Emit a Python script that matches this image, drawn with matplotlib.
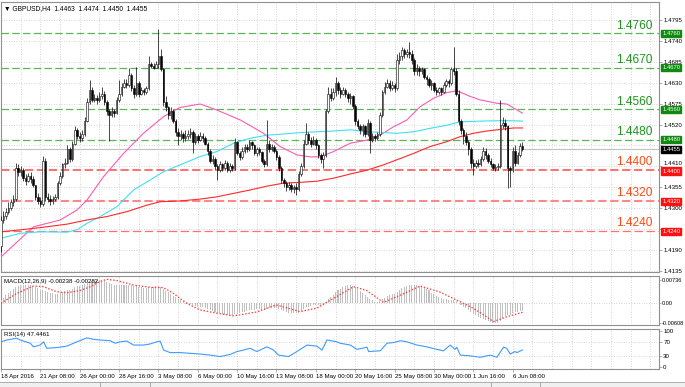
import matplotlib
matplotlib.use("Agg")
import matplotlib.pyplot as plt
from matplotlib.patches import Rectangle
import matplotlib.transforms as mtransforms
import numpy as np

plt.rcParams['font.family'] = ['Liberation Sans', 'DejaVu Sans']

# ---------------- data (GBPUSD H4, bars indexed from left edge) ----------------
opens = [1.4200, 1.4270, 1.4280, 1.4290, 1.4300, 1.4315, 1.4325, 1.4405, 1.4395, 1.4400,
         1.4380, 1.4372, 1.4385, 1.4378, 1.4360, 1.4330, 1.4320, 1.4312, 1.4425, 1.4330,
         1.4325, 1.4318, 1.4325, 1.4330, 1.4365, 1.4385, 1.4415, 1.4420, 1.4455, 1.4430,
         1.4470, 1.4505, 1.4490, 1.4485, 1.4495, 1.4530, 1.4580, 1.4610, 1.4585, 1.4590,
         1.4585, 1.4595, 1.4600, 1.4580, 1.4555, 1.4545, 1.4555, 1.4550, 1.4585, 1.4600,
         1.4620, 1.4630, 1.4625, 1.4650, 1.4615, 1.4600, 1.4630, 1.4600, 1.4610, 1.4605,
         1.4615, 1.4680, 1.4675, 1.4670, 1.4680, 1.4700, 1.4665, 1.4580, 1.4565, 1.4545,
         1.4555, 1.4530, 1.4500, 1.4490, 1.4495, 1.4485, 1.4490, 1.4495, 1.4500, 1.4475,
         1.4490, 1.4480, 1.4490, 1.4485, 1.4470, 1.4450, 1.4425, 1.4430, 1.4410, 1.4400,
         1.4415, 1.4405, 1.4420, 1.4400, 1.4410, 1.4405, 1.4475, 1.4445, 1.4435, 1.4450,
         1.4460, 1.4455, 1.4475, 1.4465, 1.4445, 1.4455, 1.4448, 1.4425, 1.4415, 1.4470,
         1.4455, 1.4460, 1.4450, 1.4435, 1.4405, 1.4375, 1.4365, 1.4355, 1.4360, 1.4350,
         1.4355, 1.4350, 1.4390, 1.4410, 1.4470, 1.4495, 1.4480, 1.4470, 1.4480, 1.4465,
         1.4440, 1.4430, 1.4440, 1.4555, 1.4600, 1.4590, 1.4605, 1.4630, 1.4610, 1.4600,
         1.4610, 1.4600, 1.4590, 1.4595, 1.4570, 1.4530, 1.4515, 1.4505, 1.4515, 1.4495,
         1.4525, 1.4480, 1.4490, 1.4485, 1.4495, 1.4545, 1.4605, 1.4620, 1.4630, 1.4615,
         1.4625, 1.4615, 1.4690, 1.4700, 1.4715, 1.4705, 1.4712, 1.4705, 1.4690, 1.4660,
         1.4670, 1.4660, 1.4665, 1.4645, 1.4640, 1.4625, 1.4630, 1.4610, 1.4605, 1.4615,
         1.4605, 1.4625, 1.4635, 1.4628, 1.4665, 1.4660, 1.4600, 1.4530, 1.4505, 1.4490,
         1.4475, 1.4455, 1.4420, 1.4410, 1.4420, 1.4415, 1.4430, 1.4450, 1.4440, 1.4425,
         1.4415, 1.4405, 1.4408, 1.4410, 1.4520, 1.4525, 1.4515, 1.4405, 1.4400, 1.4450,
         1.4420, 1.4440, 1.4463]
highs = [1.4280, 1.4292, 1.4300, 1.4315, 1.4325, 1.4335, 1.4420, 1.4415, 1.4410, 1.4405,
         1.4390, 1.4392, 1.4395, 1.4385, 1.4362, 1.4340, 1.4330, 1.4438, 1.4432, 1.4340,
         1.4335, 1.4332, 1.4338, 1.4372, 1.4395, 1.4420, 1.4432, 1.4465, 1.4462, 1.4478,
         1.4515, 1.4510, 1.4500, 1.4505, 1.4540, 1.4590, 1.4637, 1.4618, 1.4600, 1.4598,
         1.4605, 1.4620, 1.4608, 1.4585, 1.4560, 1.4565, 1.4562, 1.4592, 1.4637, 1.4630,
         1.4640, 1.4640, 1.4668, 1.4655, 1.4625, 1.4672, 1.4635, 1.4618, 1.4615, 1.4622,
         1.4700, 1.4685, 1.4682, 1.4688, 1.4771, 1.4720, 1.4668, 1.4595, 1.4570, 1.4565,
         1.4560, 1.4535, 1.4510, 1.4505, 1.4500, 1.4505, 1.4505, 1.4510, 1.4505, 1.4498,
         1.4495, 1.4500, 1.4497, 1.4490, 1.4475, 1.4455, 1.4440, 1.4435, 1.4415, 1.4425,
         1.4420, 1.4428, 1.4425, 1.4418, 1.4415, 1.4484, 1.4478, 1.4450, 1.4460, 1.4470,
         1.4468, 1.4480, 1.4478, 1.4470, 1.4462, 1.4460, 1.4450, 1.4430, 1.4532, 1.4480,
         1.4470, 1.4465, 1.4455, 1.4440, 1.4410, 1.4380, 1.4372, 1.4368, 1.4365, 1.4362,
         1.4365, 1.4398, 1.4420, 1.4480, 1.4523, 1.4500, 1.4488, 1.4490, 1.4485, 1.4468,
         1.4445, 1.4448, 1.4560, 1.4620, 1.4615, 1.4615, 1.4646, 1.4635, 1.4618, 1.4620,
         1.4615, 1.4605, 1.4602, 1.4598, 1.4575, 1.4535, 1.4522, 1.4522, 1.4520, 1.4535,
         1.4530, 1.4498, 1.4495, 1.4500, 1.4552, 1.4612, 1.4632, 1.4640, 1.4638, 1.4635,
         1.4630, 1.4705, 1.4712, 1.4725, 1.4722, 1.4720, 1.4738, 1.4715, 1.4695, 1.4678,
         1.4675, 1.4672, 1.4668, 1.4650, 1.4645, 1.4638, 1.4632, 1.4618, 1.4620, 1.4618,
         1.4632, 1.4640, 1.4640, 1.4672, 1.4725, 1.4668, 1.4610, 1.4535, 1.4510, 1.4500,
         1.4480, 1.4460, 1.4430, 1.4428, 1.4430, 1.4438, 1.4462, 1.4458, 1.4445, 1.4432,
         1.4420, 1.4415, 1.4420, 1.4585, 1.4540, 1.4535, 1.4520, 1.4412, 1.4460, 1.4465,
         1.4448, 1.4472, 1.4474]
lows = [1.4185, 1.4262, 1.4272, 1.4285, 1.4295, 1.4305, 1.4320, 1.4385, 1.4385, 1.4372,
        1.4360, 1.4368, 1.4365, 1.4355, 1.4322, 1.4310, 1.4302, 1.4305, 1.4320, 1.4315,
        1.4308, 1.4312, 1.4318, 1.4325, 1.4360, 1.4380, 1.4405, 1.4415, 1.4422, 1.4425,
        1.4465, 1.4482, 1.4475, 1.4478, 1.4490, 1.4528, 1.4575, 1.4578, 1.4578, 1.4575,
        1.4580, 1.4588, 1.4572, 1.4545, 1.4478, 1.4540, 1.4540, 1.4548, 1.4580, 1.4595,
        1.4615, 1.4615, 1.4620, 1.4608, 1.4590, 1.4595, 1.4592, 1.4598, 1.4598, 1.4600,
        1.4610, 1.4668, 1.4665, 1.4668, 1.4670, 1.4660, 1.4570, 1.4555, 1.4535, 1.4535,
        1.4525, 1.4490, 1.4466, 1.4480, 1.4475, 1.4478, 1.4482, 1.4485, 1.4445, 1.4470,
        1.4472, 1.4478, 1.4475, 1.4465, 1.4440, 1.4418, 1.4415, 1.4400, 1.4375, 1.4395,
        1.4398, 1.4400, 1.4395, 1.4396, 1.4398, 1.4400, 1.4440, 1.4428, 1.4430, 1.4445,
        1.4448, 1.4450, 1.4455, 1.4440, 1.4438, 1.4440, 1.4418, 1.4408, 1.4410, 1.4448,
        1.4450, 1.4445, 1.4428, 1.4398, 1.4365, 1.4355, 1.4345, 1.4348, 1.4342, 1.4340,
        1.4335, 1.4345, 1.4385, 1.4405, 1.4465, 1.4470, 1.4462, 1.4465, 1.4455, 1.4432,
        1.4420, 1.4405, 1.4435, 1.4550, 1.4582, 1.4585, 1.4595, 1.4600, 1.4590, 1.4598,
        1.4592, 1.4580, 1.4575, 1.4560, 1.4520, 1.4508, 1.4495, 1.4490, 1.4488, 1.4490,
        1.4445, 1.4475, 1.4478, 1.4480, 1.4490, 1.4540, 1.4600, 1.4615, 1.4608, 1.4610,
        1.4605, 1.4610, 1.4680, 1.4690, 1.4695, 1.4698, 1.4695, 1.4680, 1.4650, 1.4650,
        1.4648, 1.4652, 1.4640, 1.4625, 1.4618, 1.4612, 1.4605, 1.4598, 1.4600, 1.4598,
        1.4602, 1.4618, 1.4620, 1.4625, 1.4650, 1.4595, 1.4520, 1.4495, 1.4470, 1.4465,
        1.4440, 1.4405, 1.4388, 1.4405, 1.4408, 1.4410, 1.4425, 1.4430, 1.4418, 1.4408,
        1.4400, 1.4398, 1.4400, 1.4405, 1.4510, 1.4505, 1.4352, 1.4356, 1.4395, 1.4410,
        1.4415, 1.4435, 1.4450]
closes = [1.4270, 1.4280, 1.4290, 1.4300, 1.4315, 1.4325, 1.4405, 1.4395, 1.4400, 1.4380,
          1.4372, 1.4385, 1.4378, 1.4360, 1.4330, 1.4320, 1.4312, 1.4425, 1.4330, 1.4325,
          1.4318, 1.4325, 1.4330, 1.4365, 1.4385, 1.4415, 1.4420, 1.4455, 1.4430, 1.4470,
          1.4505, 1.4490, 1.4485, 1.4495, 1.4530, 1.4580, 1.4610, 1.4585, 1.4590, 1.4585,
          1.4595, 1.4600, 1.4580, 1.4555, 1.4545, 1.4555, 1.4550, 1.4585, 1.4600, 1.4620,
          1.4630, 1.4625, 1.4650, 1.4615, 1.4600, 1.4630, 1.4600, 1.4610, 1.4605, 1.4615,
          1.4680, 1.4675, 1.4670, 1.4680, 1.4700, 1.4665, 1.4580, 1.4565, 1.4545, 1.4555,
          1.4530, 1.4500, 1.4490, 1.4495, 1.4485, 1.4490, 1.4495, 1.4500, 1.4475, 1.4490,
          1.4480, 1.4490, 1.4485, 1.4470, 1.4450, 1.4425, 1.4430, 1.4410, 1.4400, 1.4415,
          1.4405, 1.4420, 1.4400, 1.4410, 1.4405, 1.4475, 1.4445, 1.4435, 1.4450, 1.4460,
          1.4455, 1.4475, 1.4465, 1.4445, 1.4455, 1.4448, 1.4425, 1.4415, 1.4470, 1.4455,
          1.4460, 1.4450, 1.4435, 1.4405, 1.4375, 1.4365, 1.4355, 1.4360, 1.4350, 1.4355,
          1.4350, 1.4390, 1.4410, 1.4470, 1.4495, 1.4480, 1.4470, 1.4480, 1.4465, 1.4440,
          1.4430, 1.4440, 1.4555, 1.4600, 1.4590, 1.4605, 1.4630, 1.4610, 1.4600, 1.4610,
          1.4600, 1.4590, 1.4595, 1.4570, 1.4530, 1.4515, 1.4505, 1.4515, 1.4495, 1.4525,
          1.4480, 1.4490, 1.4485, 1.4495, 1.4545, 1.4605, 1.4620, 1.4630, 1.4615, 1.4625,
          1.4615, 1.4690, 1.4700, 1.4715, 1.4705, 1.4712, 1.4705, 1.4690, 1.4660, 1.4670,
          1.4660, 1.4665, 1.4645, 1.4640, 1.4625, 1.4630, 1.4610, 1.4605, 1.4615, 1.4605,
          1.4625, 1.4635, 1.4628, 1.4665, 1.4660, 1.4600, 1.4530, 1.4505, 1.4490, 1.4475,
          1.4455, 1.4420, 1.4410, 1.4420, 1.4415, 1.4430, 1.4450, 1.4440, 1.4425, 1.4415,
          1.4405, 1.4408, 1.4410, 1.4520, 1.4525, 1.4515, 1.4405, 1.4400, 1.4450, 1.4420,
          1.4440, 1.4463, 1.4455]

# moving averages read at sample bars
ma_pink_k = [0, 13.2, 24.1, 30.8, 34.9, 41.7, 49.8, 57.9, 66.1, 72.8, 81, 87.8, 97.3, 106.7,
             113.5, 120.3, 125.7, 129.8, 135.2, 142, 148.8, 154.1, 159.5, 165, 170.4, 175.8,
             181.2, 185.3, 190.7, 194.8, 201.5, 205.6, 212]
ma_pink_v = [1.4172, 1.4251, 1.4269, 1.4295, 1.4321, 1.4383, 1.4444, 1.4497, 1.4541, 1.4565,
             1.4574, 1.4558, 1.4532, 1.4497, 1.4462, 1.4440, 1.4435, 1.4435, 1.4449, 1.4471,
             1.4479, 1.4492, 1.4514, 1.4532, 1.4567, 1.4589, 1.4604, 1.4609, 1.4594, 1.4585,
             1.4576, 1.4574, 1.4550]
ma_cyan_k = [0, 7.8, 16, 26.8, 30.8, 34.9, 40.3, 47.1, 53.9, 60.6, 66.1, 72.8, 81, 87.8,
             94.6, 101.3, 108.1, 114.9, 121.7, 128.4, 135.2, 142, 148.8, 155.5, 160.9, 167.7,
             174.4, 181.2, 186.6, 194.8, 201.5, 208.3, 212]
ma_cyan_v = [1.4221, 1.4234, 1.4238, 1.4237, 1.4243, 1.4260, 1.4278, 1.4304, 1.4348, 1.4374,
             1.4396, 1.4414, 1.4436, 1.4449, 1.4471, 1.4484, 1.4492, 1.4495, 1.4499, 1.4501,
             1.4503, 1.4506, 1.4501, 1.4499, 1.4497, 1.4501, 1.4510, 1.4518, 1.4527, 1.4529,
             1.4530, 1.4530, 1.4529]
ma_red_k = [0, 7.8, 16, 26.8, 34.9, 43, 51.2, 59.3, 64.7, 72.8, 81, 87.8, 94.6, 101.3, 108.1,
            114.9, 121.7, 128.4, 135.2, 142, 148.8, 155.5, 162, 167.7, 174.4, 181.2, 186.6,
            192, 197.5, 202.9, 208.3, 212]
ma_red_v = [1.4238, 1.4243, 1.4249, 1.4258, 1.4269, 1.4278, 1.4291, 1.4308, 1.4317, 1.4319,
            1.4324, 1.4330, 1.4339, 1.4348, 1.4358, 1.4366, 1.4368, 1.4371, 1.4379, 1.4390,
            1.4400, 1.4414, 1.4430, 1.4444, 1.4462, 1.4475, 1.4488, 1.4497, 1.4503, 1.4507,
            1.4511, 1.4511]

# MACD main (x1e-4), one value per bar
macd_main = [10, 18, 26, 33, 39, 45, 50, 54, 57, 58,
             58, 57, 56, 54, 51, 47, 43, 42, 39, 36,
             33, 31, 30, 30, 31, 34, 37, 41, 43, 46,
             50, 53, 55, 57, 60, 64, 68, 71, 73, 74,
             74, 73, 71, 68, 64, 60, 57, 56, 56, 57,
             57, 57, 58, 56, 54, 53, 51, 50, 49, 48,
             51, 52, 52, 53, 55, 51, 45, 39, 34, 29,
             24, 19, 14, 10, 6, 2, -1, -3, -6, -8,
             -10, -12, -13, -15, -18, -21, -23, -26, -29, -31,
             -33, -35, -36, -37, -38, -34, -32, -30, -28, -26,
             -23, -21, -20, -20, -19, -19, -20, -21, -18, -16,
             -15, -15, -16, -18, -21, -24, -27, -29, -30, -31,
             -31, -29, -25, -19, -13, -10, -8, -6, -5, -5,
             -5, -4, 4, 13, 20, 27, 34, 40, 46, 51,
             55, 57, 57, 55, 50, 44, 38, 32, 26, 20,
             14, 9, 5, 3, 6, 12, 18, 23, 27, 29,
             30, 36, 42, 47, 51, 54, 56, 57, 57, 56,
             54, 51, 48, 44, 40, 33, 28, 24, 20, 17,
             14, 12, 10, 11, 10, 6, 1, -5, -11, -16,
             -21, -27, -33, -38, -42, -46, -49, -52, -55, -58,
             -60, -61, -60, -54, -47, -41, -38, -35, -31, -28,
             -26, -25, -23.8]
macd_sig_k = [0, 6.4, 13.2, 17.3, 22.7, 26.8, 32.2, 36.3, 40.3, 43, 47.1, 53.9, 60.6, 66,
              70.1, 75.5, 81, 87.7, 94.5, 97.2, 104, 111.9, 121.6, 128.4, 135.1, 143.3,
              148.7, 155.5, 162.2, 170.4, 178.5, 186.6, 190.7, 196, 200.2, 205.6, 212]
macd_sig_v = [0, 31, 54, 52, 36, 33, 40, 52, 68, 75, 71, 57, 50, 49,
              31, 0, -21, -31, -39, -36, -27, -5, -26, -15, 15, 52,
              40, 3, 25, 54, 35, 5, -10, -35, -57, -42, -28.2]

# RSI(14) read at sample bars
rsi_k = [0, 2.4, 6.4, 7.8, 11.9, 13.2, 15.9, 17.3, 18.6, 22.7, 26.8, 30.8, 34.9, 37.6,
         40.3, 44.4, 46.4, 48.4, 51.2, 53.9, 57.9, 60.6, 63.3, 64.7, 66.1, 68.8, 72.9,
         76.9, 81, 85, 89.1, 93.2, 95.9, 97.3, 101.3, 104, 108.1, 110.8, 112.8, 116.9,
         120.3, 124.4, 128.4, 130.5, 132.5, 136.6, 137.9, 142, 144.7, 148.8, 149.4,
         154.2, 156.9, 159.6, 162.3, 165, 169.1, 173.1, 177.2, 179.9, 182.6, 184.6,
         185.3, 186.7, 190.7, 194.8, 198.9, 201.6, 204.3, 205.6, 207, 209, 209.7, 212]
rsi_v = [70, 75, 80, 75, 66, 56, 61, 70, 52, 54, 58, 70, 81, 77,
         75, 73, 66, 70, 72, 61, 61, 64, 70, 72, 47, 40, 40,
         38, 36, 33, 29, 35, 43, 45, 52, 43, 56, 47, 33, 29,
         43, 61, 58, 47, 75, 70, 66, 61, 49, 55, 43,
         45, 66, 68, 73, 70, 61, 56, 49, 45, 61, 49,
         55, 33, 31, 27, 33, 27, 55, 52, 36, 43, 40, 47.4]

level_green = [1.4760, 1.4670, 1.4560, 1.4480]
level_red = [1.4400, 1.4320, 1.4240]
bid_price = 1.4455
price_ticks = [1.4135, 1.4190, 1.4245, 1.4300, 1.4355, 1.4410, 1.4465, 1.4520, 1.4575,
               1.4630, 1.4685, 1.4740, 1.4795]
hidden_ticks = [1.4245, 1.4465]          # covered by the level / bid boxes in MT4
time_labels = ["18 Apr 2016", "21 Apr 08:00", "26 Apr 00:00", "28 Apr 16:00", "3 May 08:00",
               "6 May 00:00", "10 May 16:00", "13 May 08:00", "18 May 00:00", "20 May 16:00",
               "25 May 08:00", "30 May 00:00", "1 Jun 16:00", "6 Jun 08:00"]

# ---------------- layout ----------------
W, H = 685, 387
fig = plt.figure(figsize=(W / 100, H / 100), dpi=100)
fig.patch.set_facecolor('white')


def rect(x0, y0, x1, y1):
    return [x0 / W, 1 - y1 / H, (x1 - x0) / W, (y1 - y0) / H]


ax = fig.add_axes(rect(1, 2, 659, 272))
axm = fig.add_axes(rect(1, 276, 659, 325), sharex=ax)
axr = fig.add_axes(rect(1, 329, 659, 369), sharex=ax)

k = np.arange(len(closes))
xlim = (0.065, 267.5)
GRID = '#c8c8c8'
FS = 4.4

for a in (ax, axm, axr):
    a.set_xlim(*xlim)
    for s in a.spines.values():
        s.set_color('#909090')
        s.set_linewidth(0.8)
    a.yaxis.tick_right()
    a.tick_params(axis='y', labelsize=FS, length=2, width=0.5, pad=1, colors='black')
    a.tick_params(axis='y', color='#909090')
    a.set_xticks(np.arange(0, 209, 16))
    a.set_xticks(np.arange(8, 268, 8), minor=True)
    a.tick_params(axis='x', which='minor', length=0)
    a.grid(True, axis='x', which='both', color=GRID, ls=(0, (1, 2)), lw=0.6)
    a.set_axisbelow(True)

for a in (ax, axm):
    a.tick_params(axis='x', which='major', length=0, labelbottom=False)

axr.set_xticks(np.arange(0, 209, 16))
axr.set_xticklabels(time_labels, ha='left', fontsize=FS)
axr.tick_params(axis='x', which='major', length=2, width=0.5, pad=1.5, color='#909090')

# ---------------- main price panel ----------------
ax.set_ylim(1.41322, 1.48423)
ax.set_yticks(price_ticks)
ax.set_yticklabels(["" if t in hidden_ticks else f"{t:.4f}" for t in price_ticks])
ax.grid(True, axis='y', color=GRID, ls=(0, (1, 2)), lw=0.6)
# the 1.4410 label sits just above the 1.4400 level box
for t, lab in zip(price_ticks, ax.get_yticklabels()):
    if t == 1.4410:
        lab.set_transform(lab.get_transform() +
                          mtransforms.ScaledTranslation(0, 2.6 / 72, fig.dpi_scale_trans))

o = np.array(opens); hgh = np.array(highs); low = np.array(lows); c = np.array(closes)
ax.vlines(k, low, hgh, color='black', lw=0.5, zorder=4)
bull = c >= o
body_lo = np.minimum(o, c)
body_h = np.maximum(np.abs(c - o), 0.00008)
ax.bar(k[bull], body_h[bull], bottom=body_lo[bull], width=0.62, color='white',
       edgecolor='black', linewidth=0.4, zorder=5)
ax.bar(k[~bull], body_h[~bull], bottom=body_lo[~bull], width=0.62, color='black',
       edgecolor='black', linewidth=0.4, zorder=5)

ax.plot(ma_pink_k, ma_pink_v, color='#ff5ab4', lw=0.8, zorder=3)
ax.plot(ma_cyan_k, ma_cyan_v, color='#3ee0f2', lw=0.8, zorder=3)
ax.plot(ma_red_k, ma_red_v, color='#ff2a2a', lw=0.8, zorder=3)

ax.axhline(bid_price, color='#c0c0c0', lw=0.8, zorder=2)

ytr = ax.get_yaxis_transform()
for lv in level_green:
    ax.axhline(lv, color='#58b858', lw=0.9, ls=(0, (6, 2.6)), zorder=2)
    ax.annotate(f"{lv:.4f}", xy=(0.9894, lv), xycoords=ytr, xytext=(0, 1.2),
                textcoords='offset points', ha='right', va='bottom', fontsize=8.6,
                color='#1f951f', zorder=6)
    ax.annotate(f"{lv:.4f}", xy=(1, lv), xycoords=ytr, xytext=(2.4, 0),
                textcoords='offset points', ha='left', va='center', fontsize=4.2,
                color='white', annotation_clip=False, zorder=8,
                bbox=dict(boxstyle='square,pad=0.18', fc='#0f8a0f', ec='#0f8a0f'))
red_lw = [1.4, 1.2, 0.9]
for lv, lw in zip(level_red, red_lw):
    ax.axhline(lv, color='#ff7070', lw=lw, ls=(0, (6 / lw, 2.6 / lw)), zorder=2)
    ax.annotate(f"{lv:.4f}", xy=(0.9894, lv), xycoords=ytr, xytext=(0, 1.4),
                textcoords='offset points', ha='right', va='bottom', fontsize=8.6,
                color='#ff4a14', zorder=6)
    ax.annotate(f"{lv:.4f}", xy=(1, lv), xycoords=ytr, xytext=(2.4, -0.6),
                textcoords='offset points', ha='left', va='center', fontsize=4.2,
                color='white', annotation_clip=False, zorder=8,
                bbox=dict(boxstyle='square,pad=0.18', fc='#ff1010', ec='#ff1010'))
ax.annotate(f"{bid_price:.4f}", xy=(1, bid_price), xycoords=ytr, xytext=(2.4, -0.3),
            textcoords='offset points', ha='left', va='center', fontsize=4.2,
            color='white', annotation_clip=False, zorder=8,
            bbox=dict(boxstyle='square,pad=0.18', fc='black', ec='black'))

ax.text(0.004, 0.987, "\u25bc GBPUSD,H4  1.4463  1.4474  1.4450  1.4455", transform=ax.transAxes,
        fontsize=4.8, va='top', ha='left', color='black', zorder=9)

# ---------------- MACD panel ----------------
axm.set_ylim(-0.00678, 0.00853)
mm = np.array(macd_main) * 1e-4
axm.bar(k, mm, width=0.42, color='#c0c0c0', zorder=3)
axm.plot(macd_sig_k, np.array(macd_sig_v) * 1e-4, color='#ff3b3b', lw=0.9,
         ls=(0, (1.2, 1.4)), zorder=4)
axm.set_yticks([-0.00608, 0.0, 0.00736])
axm.set_yticklabels(["-0.00608", "0.00", "0.00736"])
axm.tick_params(axis='y', labelsize=4.1, pad=0.4, length=1.5)
axm.axhline(0, color=GRID, ls=(0, (1, 2)), lw=0.6, zorder=1)
axm.text(0.004, 0.93, "MACD(12,26,9) -0.00238 -0.00282", transform=axm.transAxes,
         fontsize=FS, va='top', ha='left', zorder=9)

# ---------------- RSI panel ----------------
axr.set_ylim(-5.56, 105.6)
axr.plot(rsi_k, rsi_v, color='#3d9bff', lw=0.8, zorder=3)
axr.set_yticks([0, 30, 70, 100])
axr.set_yticklabels(["0", "30", "70", "100"])
for lv in (30, 70):
    axr.axhline(lv, color=GRID, ls=(0, (1, 2)), lw=0.6, zorder=1)
axr.text(0.004, 0.93, "RSI(14) 47.4461", transform=axr.transAxes,
         fontsize=FS, va='top', ha='left', zorder=9)

# ---------------- bottom tab strip ----------------
fig.patches.append(Rectangle((0, 0), 1, 5 / H, transform=fig.transFigure,
                             facecolor='#f0f0f0', edgecolor='none', zorder=0))
fig.lines.append(plt.Line2D([0, 1], [5 / H, 5 / H], transform=fig.transFigure,
                            color='#a0a0a0', lw=0.6))
for xs in (100, 150, 491, 540):
    fig.lines.append(plt.Line2D([xs / W, xs / W], [0, 5 / H], transform=fig.transFigure,
                                color='#a0a0a0', lw=0.6))

fig.savefig("out.png", dpi=100, facecolor='white')
